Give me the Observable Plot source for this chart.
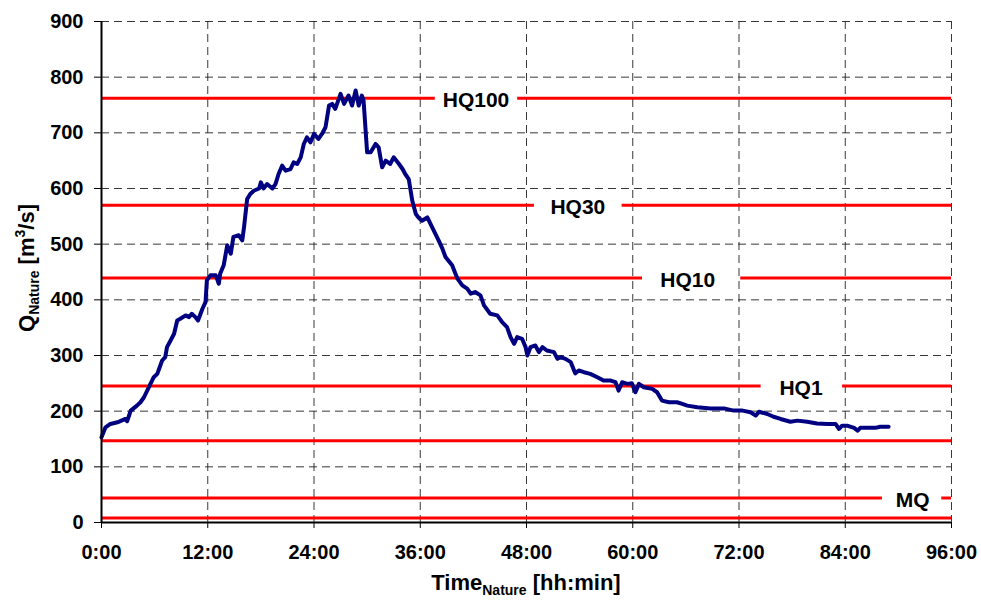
<!DOCTYPE html>
<html>
<head>
<meta charset="utf-8">
<script src="https://cdn.jsdelivr.net/npm/d3@7"></script>
<script src="https://cdn.jsdelivr.net/npm/@observablehq/plot@0.6"></script>
<style>
  html, body { margin: 0; padding: 0; background: #fff; }
  #chart { width: 981px; height: 603px; }
</style>
</head>
<body>
<div id="chart"></div>
<script>
// Time in hours (nature scale) and discharge in m3/s
const hours = [0, 0.45, 1.0, 1.8, 2.7, 2.9, 3.3, 4.0, 4.4, 4.8, 5.35, 5.9, 6.3, 6.85, 7.2, 7.4, 7.8, 8.2, 8.55, 8.9,
  9.5, 9.9, 10.2, 10.6, 10.9, 11.4, 11.75, 11.9, 12.3, 12.9, 13.25, 13.4, 13.8, 14.2, 14.6, 14.9, 15.5, 15.9, 16.1, 16.45,
  16.8, 17.2, 17.8, 18.0, 18.3, 18.7, 19.3, 19.65, 20.0, 20.4, 20.8, 21.35, 21.7, 22.1, 22.5, 22.85, 23.2, 23.6, 24.0, 24.5,
  24.9, 25.3, 25.7, 26.05, 26.4, 27.0, 27.4, 27.9, 28.3, 28.7, 29.05, 29.4, 29.6, 30.0, 30.4, 30.95, 31.3, 31.7, 32.1, 32.6,
  33.0, 33.6, 34.0, 34.3, 34.7, 35.1, 35.5, 35.8, 36.2, 36.8, 37.35, 38.1, 38.5, 38.85, 39.6, 40.2, 40.75, 41.3, 41.7, 42.2,
  42.8, 43.2, 43.9, 44.7, 45.25, 45.8, 46.2, 46.6, 46.95, 47.5, 47.9, 48.1, 48.45, 49.0, 49.4, 49.8, 50.3, 51.1, 51.5, 51.85,
  52.4, 53.0, 53.5, 53.9, 54.5, 55.2, 56.0, 56.7, 57.5, 58.05, 58.4, 58.8, 59.4, 59.9, 60.3, 60.7, 61.25, 62.2, 62.75, 63.3,
  64.1, 65.0, 65.6, 66.15, 67.3, 68.8, 70.3, 71.4, 72.4, 73.3, 73.9, 74.25, 75.2, 75.9, 76.7, 77.8, 78.6, 79.7, 80.8, 82.0,
  82.9, 83.3, 83.65, 84.2, 85.0, 85.4, 85.7, 86.5, 87.4, 87.95, 88.9];
const flow = [153, 171, 177, 180, 186, 182, 201, 210, 216, 225, 243, 261, 267, 291, 297, 315, 327, 339, 363, 366,
  372, 369, 375, 369, 363, 384, 396, 435, 444, 444, 429, 447, 462, 498, 483, 513, 516, 507, 531, 581,
  590, 596, 600, 611, 600, 608, 600, 608, 626, 641, 632, 635, 647, 644, 656, 680, 692, 683, 698, 689,
  698, 710, 749, 752, 743, 770, 752, 767, 749, 776, 749, 767, 758, 665, 665, 680, 674, 638, 650, 644,
  656, 644, 635, 626, 617, 578, 554, 548, 542, 548, 530, 506, 492, 477, 462, 438, 426, 420, 411, 414,
  408, 390, 375, 372, 360, 351, 333, 321, 333, 330, 315, 300, 315, 318, 306, 315, 309, 306, 294, 297,
  294, 288, 268, 273, 270, 267, 261, 255, 255, 252, 237, 252, 249, 250, 234, 249, 243, 240, 234, 219,
  216, 216, 213, 210, 207, 205, 205, 201, 201, 198, 192, 199, 195, 190, 186, 181, 183, 181, 178, 177,
  177, 168, 174, 174, 170, 165, 170, 170, 170, 172, 172];

// Reference discharge levels (m3/s)
const levels = [762, 570, 439, 245, 147, 44, 8];
const levelNames = ["HQ100", "HQ30", "HQ10", "HQ1", "", "MQ", ""];
const labelHours = [42.3, 53.8, 66.2, 79.0, null, 91.6, null];
const gapStart = [37.7, 48.9, 61.1, 74.5, null, 88.2, null];
const gapEnd = [47.0, 58.8, 72.2, 83.7, null, 94.9, null];

// Axis ticks
const xTicks = [0, 12, 24, 36, 48, 60, 72, 84, 96];
const yTicks = [0, 100, 200, 300, 400, 500, 600, 700, 800, 900];

const series = hours.map((h, i) => ({h, q: flow[i]}));
const segs = [];
levels.forEach((q, i) => {
  if (levelNames[i]) {
    segs.push({q, x1: 0, x2: gapStart[i]});
    segs.push({q, x1: gapEnd[i], x2: 96});
  } else {
    segs.push({q, x1: 0, x2: 96});
  }
});
const labels = levels.map((q, i) => ({q, h: labelHours[i], name: levelNames[i]})).filter(d => d.name);

const fmt = d => `${d}:00`;

const chart = Plot.plot({
  width: 981,
  height: 603,
  marginLeft: 101,
  marginRight: 30,
  marginTop: 21,
  marginBottom: 81,
  style: {fontFamily: "'Liberation Sans', Arial, sans-serif", fontWeight: "bold", fontSize: "20px", color: "#000", background: "#fff"},
  x: {domain: [0, 96]},
  y: {domain: [0, 900]},
  marks: [
    Plot.gridX(xTicks.slice(1), {stroke: "#222", strokeOpacity: 0.9, strokeWidth: 1, strokeDasharray: "8,5"}),
    Plot.gridY(yTicks.slice(1), {stroke: "#222", strokeOpacity: 0.9, strokeWidth: 1, strokeDasharray: "8,5"}),
    Plot.ruleY(segs, {y: "q", x1: "x1", x2: "x2", stroke: "#ff0000", strokeWidth: 3}),
    Plot.line(series, {x: "h", y: "q", stroke: "#000080", strokeWidth: 4, strokeLinejoin: "round"}),
    Plot.text(labels, {x: "h", y: "q", text: "name", fontSize: 21, fontWeight: "bold", fill: "#000", dy: 2}),
    Plot.axisX(xTicks, {tickSize: 6, tickPadding: 16, tickFormat: fmt, label: null, fontSize: 20}),
    Plot.axisY(yTicks, {tickSize: 7, tickPadding: 11, label: null, fontSize: 20}),
    Plot.ruleX([0], {stroke: "#000", strokeWidth: 2}),
    Plot.ruleY([0], {stroke: "#000", strokeWidth: 2})
  ]
});
document.getElementById("chart").appendChild(chart);

const svg = d3.select(chart);
const ff = "'Liberation Sans', Arial, sans-serif";
// x title
const xt = svg.append("text")
  .attr("x", 526).attr("y", 590)
  .attr("text-anchor", "middle")
  .attr("font-family", ff).attr("font-weight", "bold").attr("font-size", 22).attr("fill", "#000");
xt.append("tspan").text("Time");
xt.append("tspan").attr("font-size", 14).attr("dy", 5).text("Nature");
xt.append("tspan").attr("dy", -5).text(" [hh:min]");
// y title
const yt = svg.append("text")
  .attr("transform", "translate(34,268) rotate(-90)")
  .attr("text-anchor", "middle")
  .attr("font-family", ff).attr("font-weight", "bold").attr("font-size", 22).attr("fill", "#000");
yt.append("tspan").text("Q");
yt.append("tspan").attr("font-size", 14).attr("dy", 5).text("Nature");
yt.append("tspan").attr("dy", -5).text(" [m");
yt.append("tspan").attr("font-size", 14).attr("dy", -9).text("3");
yt.append("tspan").attr("dy", 9).text("/s]");
</script>
</body>
</html>
